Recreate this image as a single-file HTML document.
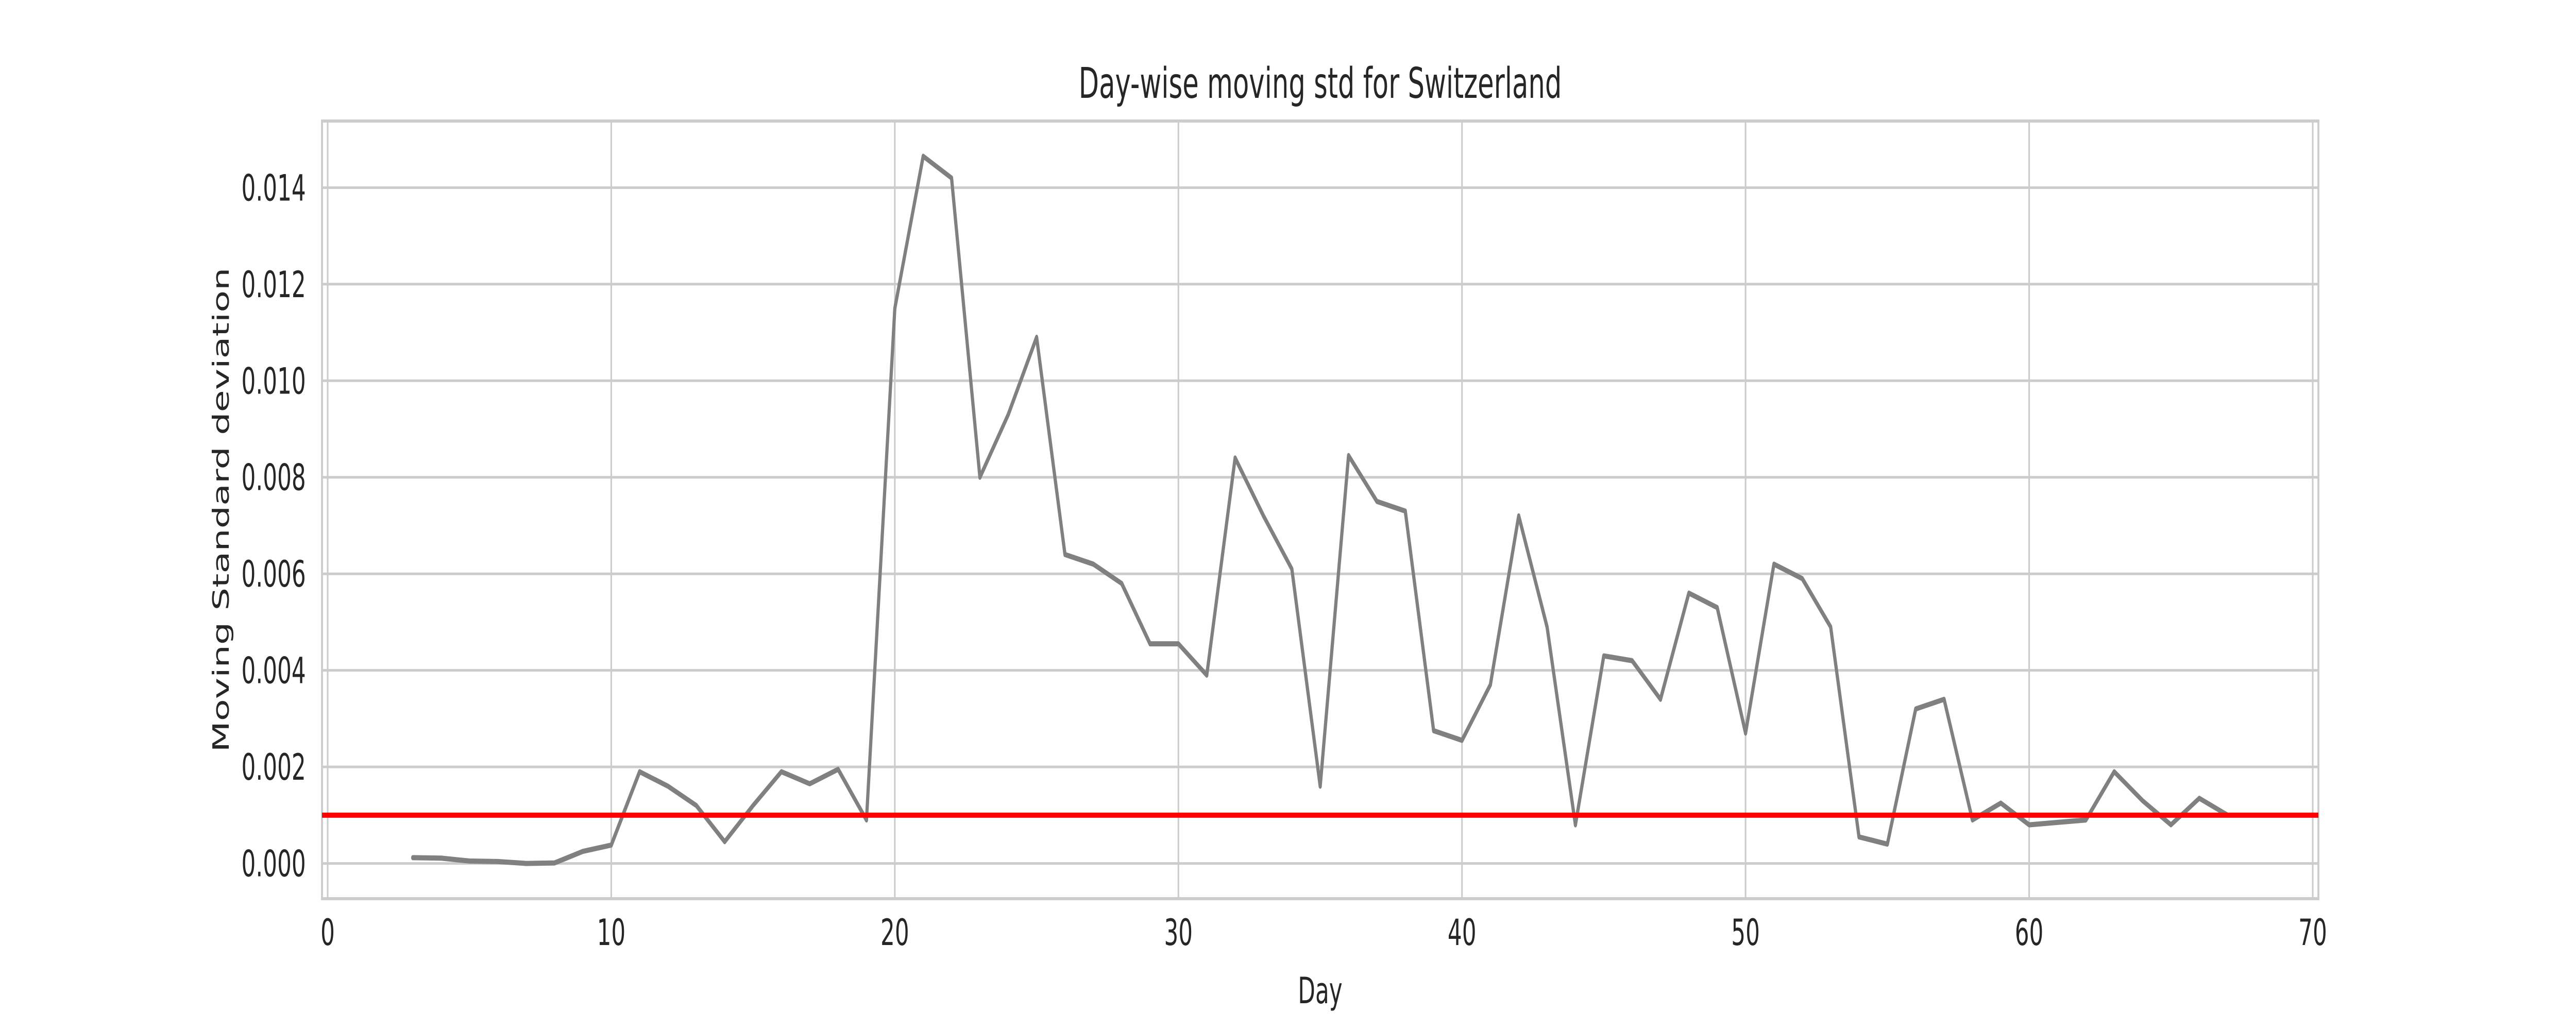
<!DOCTYPE html>
<html><head><meta charset="utf-8"><style>
html,body{margin:0;padding:0;background:#fff;width:100%;height:100%;overflow:hidden;}
svg{display:block;width:100vw;height:100vh;font-family:"DejaVu Sans","Liberation Sans",sans-serif;}
</style></head><body>
<svg id="chart" viewBox="0 0 8000 2000" preserveAspectRatio="none" xmlns="http://www.w3.org/2000/svg">
<rect width="8000" height="2000" fill="#fff"/>
<g id="grid"></g>
<g id="axes"></g>
<g id="series"></g>
<text x="4100" y="190" font-size="82" text-anchor="middle" fill="#262626">Day-wise moving std for Switzerland</text>
<text x="4100" y="1948" font-size="70" text-anchor="middle" fill="#262626">Day</text>
<text x="0" y="0" font-size="70" text-anchor="middle" fill="#262626" transform="translate(710,990) rotate(-90)">Moving Standard deviation</text>
</svg>
<script>
const days = [3,4,5,6,7,8,9,10,11,12,13,14,15,16,17,18,19,20,21,22,23,24,25,26,27,28,29,30,31,32,33,34,35,36,37,38,39,40,41,42,43,44,45,46,47,48,49,50,51,52,53,54,55,56,57,58,59,60,61,62,63,64,65,66,67];
const stdValues = [0.00012,0.00011,0.00005,0.00004,0.0,0.00001,0.00025,0.00038,0.0019,0.0016,0.0012,0.00045,0.0012,0.0019,0.00165,0.00195,0.0009,0.0115,0.01465,0.0142,0.0080,0.0093,0.0109,0.0064,0.0062,0.0058,0.00455,0.00455,0.0039,0.0084,0.0072,0.0061,0.0016,0.00845,0.0075,0.0073,0.00275,0.00255,0.0037,0.0072,0.0049,0.0008,0.0043,0.0042,0.0034,0.0056,0.0053,0.0027,0.0062,0.0059,0.0049,0.00055,0.0004,0.0032,0.0034,0.0009,0.00125,0.0008,0.00085,0.0009,0.0019,0.0013,0.0008,0.00135,0.0010];
const thresholdValue = [0.001];
const xTicks = [0,10,20,30,40,50,60,70];
const yTicks = [0,0.002,0.004,0.006,0.008,0.010,0.012,0.014];
const yTickLabels = ["0.000","0.002","0.004","0.006","0.008","0.010","0.012","0.014"];

const L=1000,R=7200,T=235,B=1745;
const xmin=-0.2,xmax=70.2;
const ymin=-0.00073,ymax=0.01538;
const sx=v=>L+(v-xmin)/(xmax-xmin)*(R-L);
const sy=v=>B-(v-ymin)/(ymax-ymin)*(B-T);
const NS="http://www.w3.org/2000/svg";
function mk(tag,attrs,parent){const e=document.createElementNS(NS,tag);for(const k in attrs)e.setAttribute(k,attrs[k]);parent.appendChild(e);return e;}
const grid=document.getElementById('grid'),axes=document.getElementById('axes'),series=document.getElementById('series');

xTicks.forEach(t=>{
  const g=mk('line',{x1:sx(t),x2:sx(t),y1:T,y2:B,stroke:'#cccccc','stroke-width':5},grid);
  
  
  const tx=mk('text',{x:sx(t),y:B+90,'font-size':70,'text-anchor':'middle',fill:'#262626'},axes);
  tx.textContent=t;
  
  
});
yTicks.forEach((t,i)=>{
  const g=mk('line',{x1:L,x2:R,y1:sy(t),y2:sy(t),stroke:'#cccccc','stroke-width':5},grid);
  
  
  const tx=mk('text',{x:L-50,y:sy(t)+25,'font-size':70,'text-anchor':'end',fill:'#262626'},axes);
  tx.textContent=yTickLabels[i];
  
  
});
const frame=mk('rect',{x:L,y:T,width:R-L,height:B-T,fill:'none',stroke:'#cccccc','stroke-width':6},axes);



const pts=days.map((d,i)=>sx(d)+','+sy(stdValues[i])).join(' ');
const line=mk('polyline',{points:pts,fill:'none',stroke:'#808080','stroke-width':10,'stroke-linejoin':'round','stroke-linecap':'round'},series);



const th=mk('line',{x1:L,x2:R,y1:sy(thresholdValue[0]),y2:sy(thresholdValue[0]),stroke:'#ff0000','stroke-width':10},series);


</script>
</body></html>
